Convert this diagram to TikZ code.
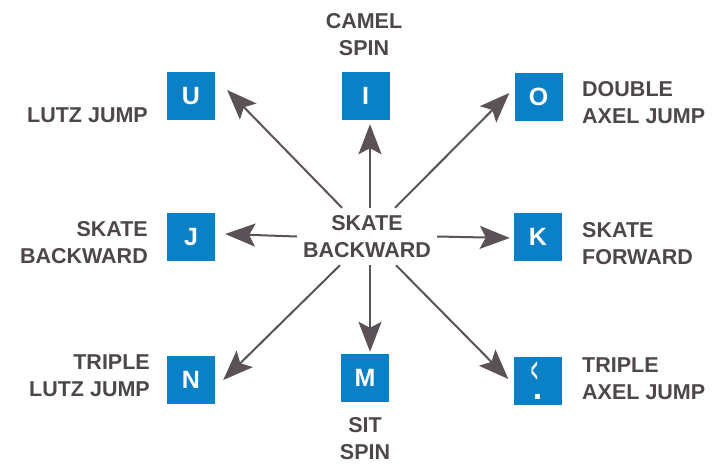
\documentclass[tikz,border=0pt]{standalone}
\usepackage{fontspec}
\setmainfont{Liberation Sans}
\usetikzlibrary{arrows.meta,calc}
\definecolor{keyblue}{HTML}{0A80C6}
\definecolor{ink}{HTML}{4E474A}
\definecolor{arrowgray}{HTML}{5A5256}
\begin{document}
\begin{tikzpicture}[x=1pt,y=-1pt,
  key/.style={fill=keyblue, minimum size=48pt, inner sep=0pt, text=white,
    font=\fontsize{25}{25}\selectfont\bfseries},
  lbl/.style={text=ink, inner sep=0pt, font=\fontsize{21.5}{27}\selectfont\bfseries},
  arr/.style={draw=arrowgray, line width=2pt,
    -{Stealth[length=30pt,width=23pt,inset=6pt]}}]
\useasboundingbox (0,0) rectangle (714,464);
% keys
\node[key] (U) at (191,96) {U};
\node[key] (I) at (365.5,96) {I};
\node[key] (O) at (538.5,96.5) {O};
\node[key] (J) at (191,237) {J};
\node[key] (K) at (538,237) {K};
\node[key] (N) at (191,380) {N};
\node[key] (M) at (365,378) {M};
\node[key, align=center] (Q) at (537.5,380.5)
  {\hspace*{-5pt}\scalebox{0.45}[1.4]{<}\\[-8pt]{\fontsize{34}{34}\selectfont .}};
% centre
\node[lbl, align=center, minimum width=140pt, minimum height=57pt] (c) at (367,236.5) {SKATE\\BACKWARD};
% labels (base = baseline of the last line)
\node[lbl, anchor=base east] (lutz) at (148,122) {LUTZ JUMP};
\node[lbl, anchor=base east, align=right] (skb) at (148,263.5) {SKATE\\BACKWARD};
\node[lbl, anchor=base east, align=right] (tlutz) at (150,396) {TRIPLE\\LUTZ JUMP};
\node[lbl, anchor=base, align=center] (camel) at (364,55) {CAMEL\\SPIN};
\node[lbl, anchor=base west, align=left] (daxel) at (582,123) {DOUBLE\\AXEL JUMP};
\node[lbl, anchor=base west, align=left] (skf) at (582,264) {SKATE\\FORWARD};
\node[lbl, anchor=base west, align=left] (taxel) at (582,399) {TRIPLE\\AXEL JUMP};
\node[lbl, anchor=base, align=center] (sit) at (365,459) {SIT\\SPIN};
% arrows
\draw[arr] ($(c.north)+(-25,0)$) -- ($(U.east)+(12,-6)$);
\draw[arr] ($(c.north)+(3,0)$) -- ($(I.south)+(4.5,4)$);
\draw[arr] ($(c.north)+(28,0)$) -- ($(O.west)+(-5,-3.5)$);
\draw[arr] (c.west) -- ($(J.east)+(10,-3)$);
\draw[arr] (c.east) -- ($(K.west)+(-4,1)$);
\draw[arr] ($(c.south)+(-27,0)$) -- ($(N.east)+(8,0)$);
\draw[arr] ($(c.south)+(3,0)$) -- ($(M.north)+(5,-2)$);
\draw[arr] ($(c.south)+(29,0)$) -- ($(Q.west)+(-5,-1.5)$);
\end{tikzpicture}
\end{document}
